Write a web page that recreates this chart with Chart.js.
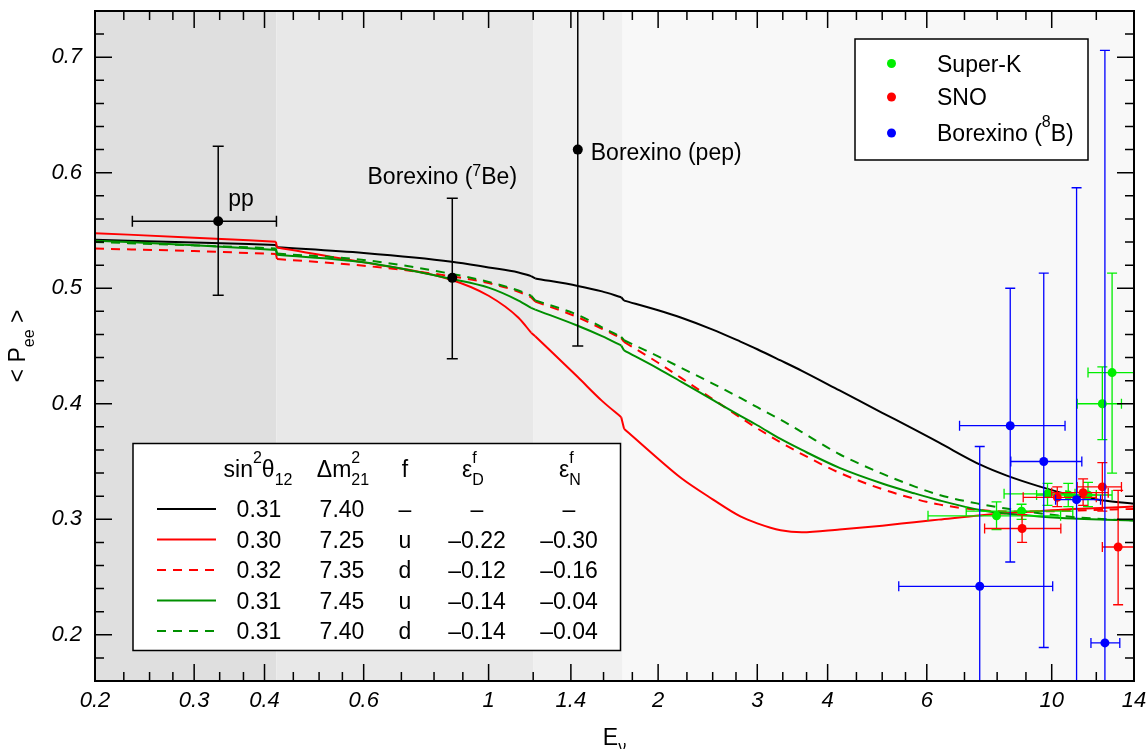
<!DOCTYPE html>
<html>
<head>
<meta charset="utf-8">
<script src="https://cdn.jsdelivr.net/npm/chart.js@4.4.1/dist/chart.umd.min.js"></script>
<style>
  html, body { margin: 0; padding: 0; background: #fff; }
  canvas { display: block; }
</style>
</head>
<body>
<canvas id="peeChart" width="1148" height="749"></canvas>
<script>
const FONT = '"Liberation Sans", Arial, Helvetica, sans-serif';

// energy grid of the model curves (MeV); the curves jump between 0.419/0.421, 1.19/1.21 and 1.72/1.74
const curveE = [0.2, 0.3, 0.419, 0.421, 0.6, 0.86, 1.0, 1.13, 1.19, 1.21, 1.44, 1.59, 1.72, 1.74, 2.0, 2.2, 2.5, 2.8, 3.0, 3.3, 3.6, 4.2, 5.0, 5.7, 6.3, 7.5, 8.3, 9.5, 10.9, 12.5, 14];
const stepAfter = [2, 8, 12];
const peeStd    = [0.542, 0.5396, 0.5375, 0.5355, 0.5305, 0.523, 0.518, 0.5137, 0.5105, 0.5085, 0.502, 0.4973, 0.4922, 0.4893, 0.481, 0.4745, 0.4642, 0.4538, 0.4472, 0.4375, 0.4285, 0.4115, 0.3922, 0.3778, 0.3665, 0.3468, 0.338, 0.3285, 0.3205, 0.316, 0.3135];
const peeRedU   = [0.5477, 0.5438, 0.5403, 0.5352, 0.5224, 0.5072, 0.4935, 0.4745, 0.4615, 0.4585, 0.4231, 0.4025, 0.3884, 0.3784, 0.3524, 0.3355, 0.3173, 0.3025, 0.2965, 0.2905, 0.2887, 0.2912, 0.2945, 0.2975, 0.2997, 0.3035, 0.3052, 0.307, 0.309, 0.310, 0.311];
const peeRedD   = [0.5343, 0.5322, 0.5296, 0.5253, 0.5195, 0.5103, 0.5045, 0.497, 0.4922, 0.4885, 0.4749, 0.4649, 0.4568, 0.4535, 0.4355, 0.4222, 0.4041, 0.388, 0.3787, 0.3666, 0.3564, 0.3402, 0.3261, 0.3178, 0.3129, 0.3078, 0.3068, 0.3068, 0.3075, 0.3083, 0.309];
const peeGreenU = [0.5412, 0.5373, 0.5331, 0.529, 0.5224, 0.508, 0.5005, 0.4893, 0.483, 0.4815, 0.4675, 0.4585, 0.4505, 0.4462, 0.4305, 0.419, 0.4033, 0.3895, 0.3814, 0.3695, 0.360, 0.3445, 0.331, 0.3225, 0.3165, 0.3078, 0.305, 0.3025, 0.3006, 0.2996, 0.299];
const peeGreenD = [0.540, 0.5371, 0.5345, 0.530, 0.5245, 0.5124, 0.5055, 0.498, 0.4936, 0.4895, 0.4769, 0.4662, 0.4579, 0.455, 0.441, 0.431, 0.4175, 0.405, 0.397, 0.3862, 0.3755, 0.3563, 0.3395, 0.3285, 0.3212, 0.313, 0.3093, 0.3052, 0.302, 0.300, 0.299];

// low energy measurements: pp, Borexino 7Be, Borexino pep
const lowE   = [0.331, 0.862, 1.44];
const lowP   = [0.558, 0.509, 0.620];
const lowElo = [0.233, null, null];
const lowEhi = [0.42, null, null];
const lowPlo = [0.494, 0.439, 0.450];
const lowPhi = [0.623, 0.578, 0.79];

// Super-K
const skE   = [7.98, 8.84, 9.83, 10.7, 11.6, 12.3, 12.8];
const skP   = [0.303, 0.307, 0.322, 0.321, 0.321, 0.400, 0.427];
const skElo = [6.03, 7.05, 8.23, 9.4, 10.6, 11.1, 11.6];
const skEhi = [10.37, 10.9, 11.0, 12.0, 12.8, 13.3, 15];
const skPlo = [0.291, 0.300, 0.312, 0.311, 0.311, 0.369, 0.340];
const skPhi = [0.315, 0.313, 0.331, 0.331, 0.332, 0.432, 0.513];

// SNO
const snoE   = [8.86, 10.23, 11.37, 12.3, 13.12];
const snoP   = [0.292, 0.319, 0.323, 0.328, 0.276];
const snoElo = [7.6, 8.9, 10.0, 11.1, 12.3];
const snoEhi = [10.38, 12.0, 12.6, 13.3, 14.2];
const snoPlo = [0.280, 0.311, 0.312, 0.307, 0.226];
const snoPhi = [0.304, 0.328, 0.335, 0.349, 0.325];

// Borexino 8B
const bxE   = [7.45, 8.44, 9.68, 11.07, 12.43];
const bxP   = [0.242, 0.381, 0.350, 0.317, 0.193];
const bxElo = [5.35, 6.86, 8.46, 10.16, 11.74];
const bxEhi = [10.04, 10.56, 11.31, 12.21, 13.21];
const bxPlo = [0.121, 0.263, 0.189, 0.047, -0.32];
const bxPhi = [0.363, 0.500, 0.513, 0.587, 0.706];

// axis ticks
const xMajorTicks = [0.2, 0.3, 0.4, 0.6, 1, 1.4, 2, 3, 4, 6, 10, 14];
const xMinorTicks = [0.225, 0.25, 0.275, 0.333, 0.367, 0.45, 0.5, 0.55, 0.7, 0.8, 0.9, 1.2, 1.6, 1.8, 2.25, 2.5, 2.75, 3.33, 3.67, 4.5, 5, 5.5, 7, 8, 9, 12];
const yMajorTicks = [0.2, 0.3, 0.4, 0.5, 0.6, 0.7];
const yMinorTicks = [0.16, 0.18, 0.22, 0.24, 0.26, 0.28, 0.32, 0.34, 0.36, 0.38, 0.42, 0.44, 0.46, 0.48, 0.52, 0.54, 0.56, 0.58, 0.62, 0.64, 0.66, 0.68, 0.72, 0.74];

// shaded energy bands
const bandEdges = [0.2, 0.42, 1.2, 1.73, 14];
const bandColors = ['#dfdfdf', '#e8e8e8', '#f0f0f0', '#f8f8f8'];

// legend table
const tabSin  = ['0.31', '0.30', '0.32', '0.31', '0.31'];
const tabDm   = ['7.40', '7.25', '7.35', '7.45', '7.40'];
const tabF    = ['–', 'u', 'd', 'u', 'd'];
const tabEpsD = ['–', '–0.22', '–0.12', '–0.14', '–0.14'];
const tabEpsN = ['–', '–0.30', '–0.16', '–0.04', '–0.04'];

const GREEN = '#008f00';
const curveStyles = [
  { data: peeStd, color: '#000000', dash: [] },
  { data: peeRedU, color: '#ff0000', dash: [] },
  { data: peeRedD, color: '#ff0000', dash: [9, 7] },
  { data: peeGreenU, color: GREEN, dash: [] },
  { data: peeGreenD, color: GREEN, dash: [9, 7] }
];

function pts(xs, ys) {
  return xs.map((v, i) => ({ x: v, y: ys[i] }));
}

// smooth pieces, broken (null) where the curve jumps
function smoothPts(vals) {
  const out = [];
  vals.forEach((v, i) => {
    out.push({ x: curveE[i], y: v });
    if (stepAfter.includes(i)) out.push({ x: Math.sqrt(curveE[i] * curveE[i + 1]), y: null });
  });
  return out;
}

// the short jumps themselves
function stepPts(vals) {
  const out = [];
  stepAfter.forEach(i => {
    out.push({ x: curveE[i], y: vals[i] }, { x: curveE[i + 1], y: vals[i + 1] }, { x: curveE[i + 1] * 1.001, y: null });
  });
  return out;
}

function drawRich(ctx, parts, x, y, opt) {
  const size = opt.size || 23, small = opt.small || 16;
  const supDy = opt.supDy !== undefined ? opt.supDy : -14;
  const subDy = opt.subDy !== undefined ? opt.subDy : 8;
  const big = size + 'px ' + FONT, sm = small + 'px ' + FONT;
  const widths = parts.map(p => {
    if (typeof p === 'string') { ctx.font = big; return ctx.measureText(p).width; }
    ctx.font = sm;
    return Math.max(p.sup ? ctx.measureText(p.sup).width : 0, p.sub ? ctx.measureText(p.sub).width : 0);
  });
  const total = widths.reduce((s, w) => s + w, 0);
  let cx = opt.align === 'center' ? x - total / 2 : (opt.align === 'right' ? x - total : x);
  ctx.textAlign = 'left';
  ctx.textBaseline = 'alphabetic';
  parts.forEach((p, i) => {
    if (typeof p === 'string') {
      ctx.font = big;
      ctx.fillText(p, cx, y);
    } else {
      ctx.font = sm;
      if (p.sup) ctx.fillText(p.sup, cx, y + supDy);
      if (p.sub) ctx.fillText(p.sub, cx, y + subDy);
    }
    cx += widths[i];
  });
}

// shaded bands behind everything
const bandPlugin = {
  id: 'bands',
  beforeDatasetsDraw(chart) {
    const { ctx, chartArea: a, scales: { x } } = chart;
    ctx.save();
    for (let i = 0; i < bandColors.length; i++) {
      const x0 = x.getPixelForValue(bandEdges[i]);
      const x1 = x.getPixelForValue(bandEdges[i + 1]);
      ctx.fillStyle = bandColors[i];
      ctx.fillRect(x0, a.top, x1 - x0, a.bottom - a.top);
    }
    ctx.restore();
  }
};

// error bars, drawn just before the markers of their dataset
const errorBarPlugin = {
  id: 'errorBars',
  beforeDatasetDraw(chart, args) {
    const ds = chart.data.datasets[args.index];
    if (!ds.errBars) return;
    const { ctx, chartArea: a, scales: { x, y } } = chart;
    const eb = ds.errBars;
    const cap = eb.cap;
    ctx.save();
    ctx.beginPath();
    ctx.rect(a.left, a.top, a.right - a.left, a.bottom - a.top);
    ctx.clip();
    ctx.strokeStyle = eb.color;
    ctx.lineWidth = eb.width;
    ds.data.forEach((p, i) => {
      const px = x.getPixelForValue(p.x), py = y.getPixelForValue(p.y);
      ctx.beginPath();
      if (eb.xlo[i] != null) {
        const xl = x.getPixelForValue(eb.xlo[i]), xh = x.getPixelForValue(eb.xhi[i]);
        ctx.moveTo(xl, py); ctx.lineTo(xh, py);
        ctx.moveTo(xl, py - cap); ctx.lineTo(xl, py + cap);
        ctx.moveTo(xh, py - cap); ctx.lineTo(xh, py + cap);
      }
      const yl = y.getPixelForValue(eb.ylo[i]), yh = y.getPixelForValue(eb.yhi[i]);
      ctx.moveTo(px, yl); ctx.lineTo(px, yh);
      ctx.moveTo(px - cap, yl); ctx.lineTo(px + cap, yl);
      ctx.moveTo(px - cap, yh); ctx.lineTo(px + cap, yh);
      ctx.stroke();
    });
    ctx.restore();
  }
};

// frame, inward ticks, legends and labels
const overlayPlugin = {
  id: 'overlay',
  afterDraw(chart) {
    const { ctx, chartArea: a, scales: { x, y } } = chart;
    ctx.save();
    ctx.strokeStyle = '#000';
    ctx.lineWidth = 1.5;
    ctx.beginPath();
    x.ticks.forEach(t => {
      const px = x.getPixelForValue(t.value);
      const len = xMajorTicks.includes(t.value) ? 17 : 9;
      ctx.moveTo(px, a.bottom); ctx.lineTo(px, a.bottom - len);
      ctx.moveTo(px, a.top); ctx.lineTo(px, a.top + len);
    });
    y.ticks.forEach(t => {
      const py = y.getPixelForValue(t.value);
      const len = yMajorTicks.includes(t.value) ? 17 : 9;
      ctx.moveTo(a.left, py); ctx.lineTo(a.left + len, py);
      ctx.moveTo(a.right, py); ctx.lineTo(a.right - len, py);
    });
    ctx.stroke();
    ctx.lineWidth = 2;
    ctx.strokeRect(a.left, a.top, a.right - a.left, a.bottom - a.top);

    ctx.fillStyle = '#000';
    // axis titles
    drawRich(ctx, ['E', { sub: 'ν' }], (a.left + a.right) / 2, 745, { align: 'center', subDy: 7 });
    ctx.save();
    ctx.translate(25, (a.top + a.bottom) / 2);
    ctx.rotate(-Math.PI / 2);
    drawRich(ctx, ['< P', { sub: 'ee' }, ' >'], 0, 0, { align: 'center', subDy: 9 });
    ctx.restore();

    // labels of the low energy points
    const ppX = x.getPixelForValue(lowE[0]), ppY = y.getPixelForValue(lowP[0]);
    drawRich(ctx, ['pp'], ppX + 10, ppY - 15, {});
    drawRich(ctx, ['Borexino (', { sup: '7' }, 'Be)'], x.getPixelForValue(lowE[1]) - 10, y.getPixelForValue(lowPhi[1]) - 14, { align: 'center', supDy: -8 });
    drawRich(ctx, ['Borexino (pep)'], x.getPixelForValue(lowE[2]) + 13, y.getPixelForValue(lowP[2]) + 10, {});

    // legend of the data sets (top right)
    ctx.fillStyle = '#fff';
    ctx.fillRect(855, 39, 233, 121);
    ctx.lineWidth = 1.5;
    ctx.strokeRect(855, 39, 233, 121);
    const dotCols = ['#00ee00', '#ff0000', '#0000ff'];
    const dotY = [63.5, 97, 133];
    dotCols.forEach((c, i) => {
      ctx.fillStyle = c;
      ctx.beginPath(); ctx.arc(891.5, dotY[i], 4.5, 0, Math.PI * 2); ctx.fill();
    });
    ctx.fillStyle = '#000';
    drawRich(ctx, ['Super-K'], 937, dotY[0] + 8, {});
    drawRich(ctx, ['SNO'], 937, dotY[1] + 8, {});
    drawRich(ctx, ['Borexino (', { sup: '8' }, 'B)'], 937, dotY[2] + 8, { supDy: -14 });

    // legend table (bottom left)
    ctx.fillStyle = '#fff';
    ctx.fillRect(133, 443.5, 487.5, 207);
    ctx.strokeStyle = '#000';
    ctx.lineWidth = 1.5;
    ctx.strokeRect(133, 443.5, 487.5, 207);
    ctx.fillStyle = '#000';
    const hb = 477;
    drawRich(ctx, ['sin', { sup: '2' }, 'θ', { sub: '12' }], 258, hb, { align: 'center' });
    drawRich(ctx, ['Δm', { sup: '2', sub: '21' }], 343, hb, { align: 'center' });
    drawRich(ctx, ['f'], 405, hb, { align: 'center' });
    drawRich(ctx, ['ε', { sup: 'f', sub: 'D' }], 473, hb, { align: 'center' });
    drawRich(ctx, ['ε', { sup: 'f', sub: 'N' }], 570, hb, { align: 'center' });
    const colX = [259, 342, 405, 477, 569];
    for (let r = 0; r < 5; r++) {
      const cy = 509 + r * 30.5;
      ctx.strokeStyle = curveStyles[r].color;
      ctx.lineWidth = 2;
      ctx.setLineDash(curveStyles[r].dash);
      ctx.beginPath(); ctx.moveTo(157, cy); ctx.lineTo(216, cy); ctx.stroke();
      ctx.setLineDash([]);
      const row = [tabSin[r], tabDm[r], tabF[r], tabEpsD[r], tabEpsN[r]];
      row.forEach((t, c) => drawRich(ctx, [t], colX[c], cy + 8, { align: 'center' }));
    }
    ctx.restore();
  }
};

const curveSets = [];
curveStyles.forEach((s, i) => {
  curveSets.push({
    data: smoothPts(s.data),
    showLine: true,
    spanGaps: false,
    pointRadius: 0,
    borderColor: s.color,
    borderWidth: 2,
    borderDash: s.dash,
    cubicInterpolationMode: 'monotone',
    order: 8 - i
  });
  curveSets.push({
    data: stepPts(s.data),
    showLine: true,
    spanGaps: false,
    pointRadius: 0,
    borderColor: s.color,
    borderWidth: 2,
    tension: 0,
    order: 8 - i
  });
});

function pointSet(xs, ys, color, elo, ehi, plo, phi, order, radius, width, cap) {
  return {
    data: pts(xs, ys),
    showLine: false,
    pointRadius: radius,
    pointBackgroundColor: color,
    pointBorderWidth: 0,
    borderColor: color,
    order: order,
    errBars: { xlo: elo, xhi: ehi, ylo: plo, yhi: phi, color: color, width: width, cap: cap }
  };
}

new Chart(document.getElementById('peeChart'), {
  type: 'scatter',
  data: {
    datasets: [
      ...curveSets,
      pointSet(skE, skP, '#00ee00', skElo, skEhi, skPlo, skPhi, 3, 4.5, 1.3, 5),
      pointSet(snoE, snoP, '#ff0000', snoElo, snoEhi, snoPlo, snoPhi, 2, 4.5, 1.3, 5),
      pointSet(bxE, bxP, '#0000ff', bxElo, bxEhi, bxPlo, bxPhi, 1, 4.5, 1.3, 5),
      pointSet(lowE, lowP, '#000000', lowElo, lowEhi, lowPlo, lowPhi, 0, 5, 1.5, 5.5)
    ]
  },
  options: {
    responsive: false,
    animation: false,
    devicePixelRatio: 1,
    layout: { padding: { top: 11, right: 14, left: 0, bottom: 0 } },
    plugins: { legend: { display: false }, tooltip: { enabled: false } },
    scales: {
      x: {
        type: 'logarithmic',
        min: 0.2,
        max: 14,
        afterBuildTicks: s => { s.ticks = xMajorTicks.concat(xMinorTicks).sort((p, q) => p - q).map(v => ({ value: v })); },
        afterFit: s => { s.height = 68; s.paddingLeft = 0; s.paddingRight = 0; },
        ticks: {
          autoSkip: false,
          maxRotation: 0,
          minRotation: 0,
          padding: 7,
          color: '#000',
          font: { family: FONT, size: 22, style: 'italic' },
          callback: v => xMajorTicks.includes(v) ? String(v) : ''
        },
        grid: { display: false, drawTicks: false },
        border: { display: false }
      },
      y: {
        min: 0.16,
        max: 0.74,
        afterBuildTicks: s => { s.ticks = yMajorTicks.concat(yMinorTicks).sort((p, q) => p - q).map(v => ({ value: v })); },
        afterFit: s => { s.width = 95; s.paddingTop = 0; s.paddingBottom = 0; },
        ticks: {
          autoSkip: false,
          padding: 13,
          color: '#000',
          font: { family: FONT, size: 22, style: 'italic' },
          callback: v => yMajorTicks.includes(v) ? v.toFixed(1) : ''
        },
        grid: { display: false, drawTicks: false },
        border: { display: false }
      }
    }
  },
  plugins: [bandPlugin, errorBarPlugin, overlayPlugin]
});
</script>
</body>
</html>
